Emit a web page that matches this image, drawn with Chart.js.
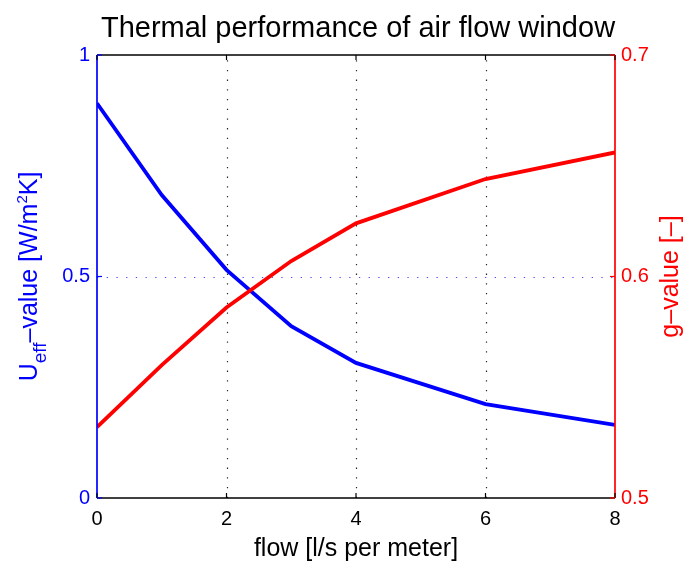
<!DOCTYPE html>
<html>
<head>
<meta charset="utf-8">
<script src="https://cdn.jsdelivr.net/npm/chart.js@4/dist/chart.umd.min.js"></script>
<style>
  html, body { margin: 0; padding: 0; background: #fff; }
  #wrap { width: 688px; height: 562px; }
</style>
</head>
<body>
<div id="wrap"><canvas id="c" width="688" height="562"></canvas></div>
<script>
// Air flow through the window cavity [l/s per meter]
const flow = [0, 1, 2, 3, 4, 6, 8];
// Effective U-value [W/m2K]
const uEff = [0.891, 0.684, 0.515, 0.388, 0.305, 0.212, 0.165];
// Total solar energy transmittance g [-]
const gValue = [0.532, 0.560, 0.586, 0.607, 0.624, 0.644, 0.656];

// Tick labels
const flowTicks = [0, 2, 4, 6, 8];
const uTicks = [0, 0.5, 1];
const gTicks = [0.5, 0.6, 0.7];

const FONT = "'Liberation Sans', Arial, Helvetica, sans-serif";
const BLUE = '#0000ff';
const RED = '#ff0000';

function pts(xs, ys) { return xs.map((x, i) => ({ x: x, y: ys[i] })); }
function fmt(v) { return String(+Number(v).toFixed(2)); }

// Axes box, dotted grid, inward tick marks and all titles
const frame = {
  id: 'frame',
  beforeDatasetsDraw(chart) {
    const { ctx, chartArea: a, scales } = chart;
    ctx.save();
    ctx.lineWidth = 1.2;
    ctx.lineCap = 'butt';
    // vertical dotted grid
    ctx.strokeStyle = 'rgba(0,0,0,0.85)';
    ctx.setLineDash([1.3, 8.4]);
    flowTicks.forEach(v => {
      if (v === flowTicks[0] || v === flowTicks[flowTicks.length - 1]) return;
      const x = Math.round(scales.x.getPixelForValue(v)) + 0.5;
      ctx.beginPath(); ctx.moveTo(x, a.bottom); ctx.lineTo(x, a.top); ctx.stroke();
    });
    // horizontal dotted grid from the left axis
    ctx.strokeStyle = '#4a4aff';
    uTicks.forEach(v => {
      if (v === uTicks[0] || v === uTicks[uTicks.length - 1]) return;
      const y = Math.round(scales.yL.getPixelForValue(v)) + 0.5;
      ctx.beginPath(); ctx.moveTo(a.left, y); ctx.lineTo(a.right, y); ctx.stroke();
    });
    ctx.restore();
  },
  afterDatasetsDraw(chart) {
    const { ctx, chartArea: a, scales } = chart;
    const T = 5;
    ctx.save();
    ctx.setLineDash([]);
    ctx.lineWidth = 1.7;
    const line = (x1, y1, x2, y2, c) => {
      ctx.strokeStyle = c; ctx.beginPath(); ctx.moveTo(x1, y1); ctx.lineTo(x2, y2); ctx.stroke();
    };
    // box
    line(a.left, a.top, a.right, a.top, '#000');
    line(a.left, a.bottom, a.right, a.bottom, '#000');
    line(a.left, a.top, a.left, a.bottom, BLUE);
    line(a.right, a.top, a.right, a.bottom, RED);
    // inward ticks
    ctx.lineWidth = 1.2;
    flowTicks.forEach(v => {
      const x = scales.x.getPixelForValue(v);
      line(x, a.bottom, x, a.bottom - T, '#000');
      line(x, a.top, x, a.top + T, '#000');
    });
    uTicks.forEach(v => {
      const y = scales.yL.getPixelForValue(v);
      line(a.left, y, a.left + T, y, BLUE);
    });
    gTicks.forEach(v => {
      const y = scales.yR.getPixelForValue(v);
      line(a.right, y, a.right - T, y, RED);
    });

    const cx = (a.left + a.right) / 2;
    const cy = (a.top + a.bottom) / 2;

    // chart title
    ctx.fillStyle = '#000';
    ctx.textAlign = 'center';
    ctx.textBaseline = 'alphabetic';
    ctx.font = '29px ' + FONT;
    ctx.fillText('Thermal performance of air flow window', cx + 2, 37);

    // x axis title
    ctx.font = '25px ' + FONT;
    ctx.fillText('flow [l/s per meter]', cx, 556);

    // rotated rich-text title: runs of [text, size, baseline shift]
    function rich(runs, x, y, color) {
      ctx.save();
      ctx.translate(x, y);
      ctx.rotate(-Math.PI / 2);
      ctx.fillStyle = color;
      ctx.textAlign = 'left';
      ctx.textBaseline = 'alphabetic';
      let w = 0;
      runs.forEach(r => { ctx.font = r[1] + 'px ' + FONT; w += ctx.measureText(r[0]).width; });
      let px = -w / 2;
      runs.forEach(r => {
        ctx.font = r[1] + 'px ' + FONT;
        ctx.fillText(r[0], px, r[2]);
        px += ctx.measureText(r[0]).width;
      });
      ctx.restore();
    }
    rich([['U', 25, 0], ['eff', 19, 9], ['\u2013value [W/m', 25, 0], ['2', 15, -10], ['K]', 25, 0]], 37, cy, BLUE);
    rich([['g\u2013value [\u2013]', 25, 0]], 678, cy, RED);
    ctx.restore();
  }
};

new Chart(document.getElementById('c').getContext('2d'), {
  type: 'line',
  data: {
    datasets: [
      {
        label: 'g-value', data: pts(flow, gValue), yAxisID: 'yR',
        borderColor: RED, backgroundColor: RED, borderWidth: 3.8,
        pointRadius: 0, tension: 0, fill: false, order: 0
      },
      {
        label: 'U-value', data: pts(flow, uEff), yAxisID: 'yL',
        borderColor: BLUE, backgroundColor: BLUE, borderWidth: 3.8,
        pointRadius: 0, tension: 0, fill: false, order: 1
      }
    ]
  },
  options: {
    responsive: false,
    animation: false,
    devicePixelRatio: 1,
    layout: { padding: { top: 55, left: 0, right: 0, bottom: 0 } },
    plugins: { legend: { display: false }, tooltip: { enabled: false }, title: { display: false } },
    scales: {
      x: {
        type: 'linear', min: flowTicks[0], max: flowTicks[flowTicks.length - 1],
        afterBuildTicks: s => { s.ticks = flowTicks.map(v => ({ value: v })); },
        grid: { display: false, drawTicks: false },
        border: { display: false },
        ticks: { color: '#000', font: { size: 20, family: FONT }, padding: 9, maxRotation: 0, autoSkip: false, callback: fmt },
        afterFit: s => { s.height = 64; }
      },
      yL: {
        type: 'linear', position: 'left', min: uTicks[0], max: uTicks[uTicks.length - 1],
        afterBuildTicks: s => { s.ticks = uTicks.map(v => ({ value: v })); },
        grid: { display: false, drawTicks: false },
        border: { display: false },
        ticks: { color: BLUE, font: { size: 20, family: FONT }, padding: 7, autoSkip: false, callback: fmt },
        afterFit: s => { s.width = 97; }
      },
      yR: {
        type: 'linear', position: 'right', min: gTicks[0], max: gTicks[gTicks.length - 1],
        afterBuildTicks: s => { s.ticks = gTicks.map(v => ({ value: v })); },
        grid: { display: false, drawTicks: false },
        border: { display: false },
        ticks: { color: RED, font: { size: 20, family: FONT }, padding: 6, autoSkip: false, callback: fmt },
        afterFit: s => { s.width = 73; }
      }
    }
  },
  plugins: [frame]
});
</script>
</body>
</html>
